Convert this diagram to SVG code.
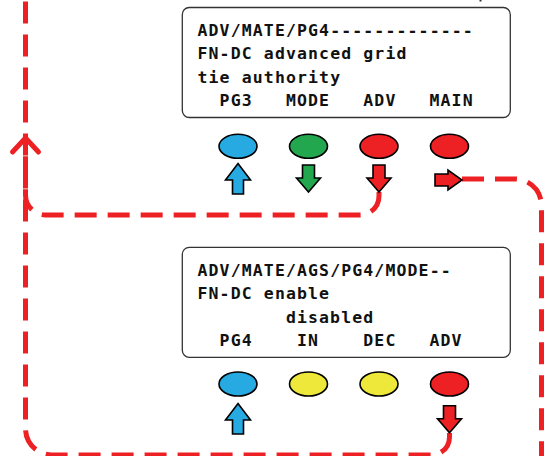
<svg xmlns="http://www.w3.org/2000/svg" width="557" height="456" viewBox="0 0 557 456">
<style>
.box{fill:#fff;stroke:#333;stroke-width:1.3}
.t{font-family:"DejaVu Sans Mono","Liberation Mono",monospace;font-weight:bold;font-size:16.5px;letter-spacing:1.12px;fill:#111}
.btn{stroke:#000;stroke-width:1.6}
.ar{stroke:#000;stroke-width:1.6;stroke-linejoin:miter}
.red{fill:#ed2024}.blue{fill:#27a9e1}.green{fill:#22a64e}.yellow{fill:#ede83a}
.dash{fill:none;stroke:#ed2024;stroke-width:5;stroke-dasharray:22 11}
.head{fill:none;stroke:#ed2024;stroke-width:5;stroke-linecap:round;stroke-linejoin:round}
</style>
<defs>
<polygon id="up" points="0,0 12.5,16.5 5.5,16.5 5.5,30.5 -5.5,30.5 -5.5,16.5 -12.5,16.5"/>
<polygon id="down" points="-6,0 6,0 6,13 12,13 0,27 -12,13 -6,13"/>
<polygon id="right" points="0,-6 13,-6 13,-10 27,0 13,10 13,6 0,6"/>
</defs>
<g id="connectors">
<path class="dash" d="M449.5,433 V437 A18,18 0 0 1 431.5,455 H52 A26.5,26.5 0 0 1 25.5,428.5 V-5"/>
<path class="dash" d="M379,192 V196 A19,19 0 0 1 360,215 H45.5 A20,20 0 0 1 25.5,195 V139"/>
<polyline class="head" points="12.5,152 25.5,138 38.5,152"/>
<path class="dash" d="M462,179 H515 A26.5,26.5 0 0 1 541.5,205.5 V460"/>
<line x1="480.5" y1="-2" x2="480.5" y2="1.5" stroke="#333" stroke-width="2"/>
</g>
<g id="screen1">
<rect class="box" x="182.3" y="7.5" width="328" height="110" rx="7"/>
<text class="t" x="197.5" y="36">ADV/MATE/PG4-------------</text>
<text class="t" x="197.5" y="59.3">FN-DC advanced grid</text>
<text class="t" x="197.5" y="82.6">tie authority</text>
<text class="t" x="219.6" y="106">PG3</text>
<text class="t" x="285.9" y="106">MODE</text>
<text class="t" x="363.3" y="106">ADV</text>
<text class="t" x="429.5" y="106">MAIN</text>
</g>
<g id="buttons1">
<ellipse class="btn blue" cx="238" cy="146.3" rx="19" ry="12"/>
<ellipse class="btn green" cx="308.5" cy="146.3" rx="19" ry="12"/>
<ellipse class="btn red" cx="379" cy="146.3" rx="19" ry="12"/>
<ellipse class="btn red" cx="449.5" cy="146.3" rx="19" ry="12"/>
<use href="#up" class="ar blue" x="238" y="163.5"/>
<use href="#down" class="ar green" x="308.5" y="165"/>
<use href="#down" class="ar red" x="379" y="165"/>
<use href="#right" class="ar red" x="435" y="180"/>
</g>
<g id="screen2">
<rect class="box" x="182.3" y="247.3" width="328" height="110" rx="7"/>
<text class="t" x="197.5" y="276">ADV/MATE/AGS/PG4/MODE--</text>
<text class="t" x="197.5" y="299.3">FN-DC enable</text>
<text class="t" x="285.9" y="322.6">disabled</text>
<text class="t" x="219.6" y="346">PG4</text>
<text class="t" x="297" y="346">IN</text>
<text class="t" x="363.3" y="346">DEC</text>
<text class="t" x="429.5" y="346">ADV</text>
</g>
<g id="buttons2">
<ellipse class="btn blue" cx="238" cy="384" rx="19" ry="12"/>
<ellipse class="btn yellow" cx="308.5" cy="384" rx="19" ry="12"/>
<ellipse class="btn yellow" cx="379" cy="384" rx="19" ry="12"/>
<ellipse class="btn red" cx="449.5" cy="384" rx="19" ry="12"/>
<use href="#up" class="ar blue" x="238" y="403.5"/>
<use href="#down" class="ar red" x="449.5" y="405.7"/>
</g>
</svg>
